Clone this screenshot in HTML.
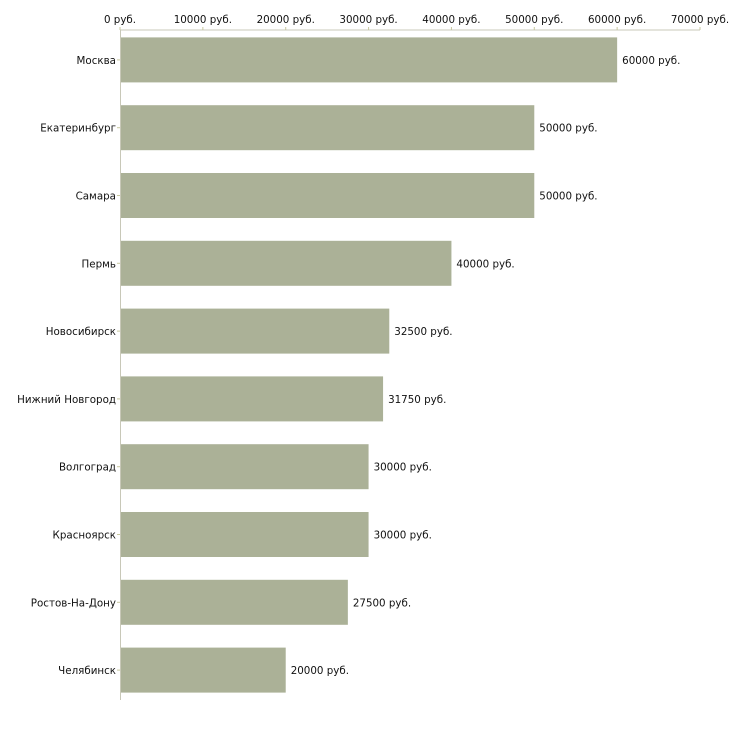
<!DOCTYPE html>
<html><head><meta charset="utf-8"><style>
body{margin:0;background:#fff;}
svg{display:block;font-family:"DejaVu Sans","Liberation Sans",sans-serif;font-size:10.3px;fill:#111;}
</style></head><body>
<svg id="c" width="730" height="730"></svg>
<script>
const categories=["Москва","Екатеринбург","Самара","Пермь","Новосибирск","Нижний Новгород","Волгоград","Красноярск","Ростов-На-Дону","Челябинск"];
const values=[60000,50000,50000,40000,32500,31750,30000,30000,27500,20000];
const ticks=[0,10000,20000,30000,40000,50000,60000,70000];
const NS="http://www.w3.org/2000/svg";
const svg=document.getElementById('c');
const x0=120,x1=700,vmax=70000,yTop=26,band=67.8,barH=45;
const xs=v=>x0+(x1-x0)*v/vmax;
const yc=i=>yTop+band*i+band/2;
function mk(t,a){const e=document.createElementNS(NS,t);for(const k in a)e.setAttribute(k,a[k]);svg.appendChild(e);return e;}
let e;
e=mk('line',{x1:x0,y1:30,x2:x1,y2:30,stroke:'#c8c8b8','stroke-width':1});


e=mk('line',{x1:x0+0.5,y1:30,x2:x0+0.5,y2:700,stroke:'#c8c8b8','stroke-width':1});


ticks.forEach(t=>{
  const x=xs(t);
  e=mk('line',{x1:x,y1:27,x2:x,y2:30,stroke:'#c8c8a0'});
  
  
  e=mk('text',{x:x,y:23,'text-anchor':'middle'});e.textContent=t+' руб.';
  
  
});
categories.forEach((c,i)=>{
  const y=yc(i),v=values[i];
  e=mk('rect',{x:x0+1,y:y-barH/2,width:xs(v)-x0-1,height:barH,fill:'#abb197'});
  
  
  e=mk('line',{x1:x0-3,y1:y,x2:x0,y2:y,stroke:'#c8c8a0'});
  
  
  e=mk('text',{x:x0-4,y:y+4,'text-anchor':'end'});e.textContent=c;
  
  
  e=mk('text',{x:xs(v)+5,y:y+4});e.textContent=v+' руб.';
  
  
});
</script>
</body></html>
